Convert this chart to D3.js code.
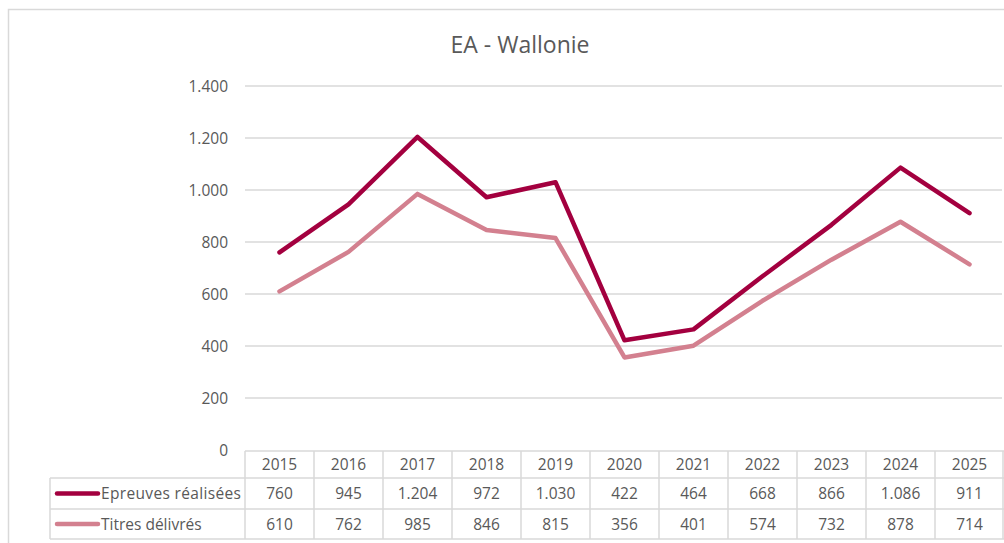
<!DOCTYPE html>
<html><head><meta charset="utf-8">
<script src="https://cdn.jsdelivr.net/npm/d3@7"></script>
<style>html,body{margin:0;padding:0;background:#fff;overflow:hidden}</style>
</head><body>
<svg id="c" width="1004" height="543"></svg>
<script>
const years = ["2015","2016","2017","2018","2019","2020","2021","2022","2023","2024","2025"];
const epreuves = [760,945,1204,972,1030,422,464,668,866,1086,911];
const titres = [610,762,985,846,815,356,401,574,732,878,714];
const seriesNames = ["Epreuves réalisées","Titres délivrés"];
const seriesColors = ["#A3003F","#D3808F"];
const yTicks = [0,200,400,600,800,1000,1200,1400];
const title = "EA - Wallonie";

(function(){
const svg = d3.select("#c");
const font = "'Open Sans', 'Noto Sans', sans-serif";
const fmt = v => d3.format(",")(v).replace(/,/g,".");

svg.append("rect").attr("x",8.5).attr("y",9.5).attr("width",1010).attr("height",550)
  .attr("fill","#fff").attr("stroke","#d9d9d9").attr("stroke-width",1.5);

svg.append("text").attr("x",520).attr("y",53).attr("text-anchor","middle")
  .attr("font-family",font).attr("font-size",23).attr("fill","#595959").text(title);

const pLeft=245, pRight=1004, pTop=86, pBottom=450;
const x = d3.scaleBand().domain(years).range([pLeft,pRight]);
const y = d3.scaleLinear().domain([0,1400]).range([pBottom,pTop]);

svg.append("g").selectAll("line").data(yTicks.filter(d=>d>0)).join("line")
  .attr("x1",pLeft).attr("x2",1002).attr("y1",d=>y(d)).attr("y2",d=>y(d))
  .attr("stroke","#d9d9d9").attr("stroke-width",1.5);

svg.append("g").selectAll("text").data(yTicks).join("text")
  .attr("x",228).attr("y",d=>y(d)+5.5).attr("text-anchor","end")
  .attr("font-family",font).attr("font-size",15.5).attr("fill","#595959").text(d=>fmt(d));

const line = d3.line().x((d,i)=>x(years[i])+x.bandwidth()/2).y(d=>y(d));
[titres,epreuves].forEach((s,k)=>{
  const idx = 1-k;
  svg.append("path").datum(s).attr("d",line).attr("fill","none")
    .attr("stroke",seriesColors[idx]).attr("stroke-width",4.5).attr("stroke-linejoin","round").attr("stroke-linecap","round");
});

const rowY = [451,478,509,539];
const tbl = svg.append("g").attr("stroke","#d9d9d9").attr("stroke-width",1.5).attr("fill","none");
tbl.append("line").attr("x1",pLeft).attr("x2",pRight).attr("y1",rowY[0]).attr("y2",rowY[0]);
for(let r=1;r<4;r++) tbl.append("line").attr("x1",50).attr("x2",pRight).attr("y1",rowY[r]).attr("y2",rowY[r]);
tbl.append("line").attr("x1",50).attr("x2",50).attr("y1",rowY[1]).attr("y2",rowY[3]);
years.forEach(yr=>{
  tbl.append("line").attr("x1",x(yr)).attr("x2",x(yr)).attr("y1",rowY[0]).attr("y2",rowY[3]);
});
tbl.append("line").attr("x1",1003).attr("x2",1003).attr("y1",rowY[0]).attr("y2",rowY[3]);

const tx = svg.append("g").attr("font-family",font).attr("font-size",15.5).attr("fill","#595959").attr("text-anchor","middle");
years.forEach(yr=>{
  tx.append("text").attr("x",x(yr)+x.bandwidth()/2).attr("y",(rowY[0]+rowY[1])/2+5.5).text(yr);
});
[epreuves,titres].forEach((s,k)=>{
  const cy=(rowY[k+1]+rowY[k+2])/2+5.5;
  s.forEach((v,i)=>{
    tx.append("text").attr("x",x(years[i])+x.bandwidth()/2).attr("y",cy).text(fmt(v));
  });
  svg.append("line").attr("x1",57).attr("x2",98).attr("y1",cy-5.5).attr("y2",cy-5.5)
    .attr("stroke",seriesColors[k]).attr("stroke-width",4.5).attr("stroke-linecap","round");
  svg.append("text").attr("x",101).attr("y",cy).attr("font-family",font).attr("font-size",15.5)
    .attr("fill","#595959").attr("textLength",k===0?140:null).text(seriesNames[k]);
});
})();
</script>
</body></html>
